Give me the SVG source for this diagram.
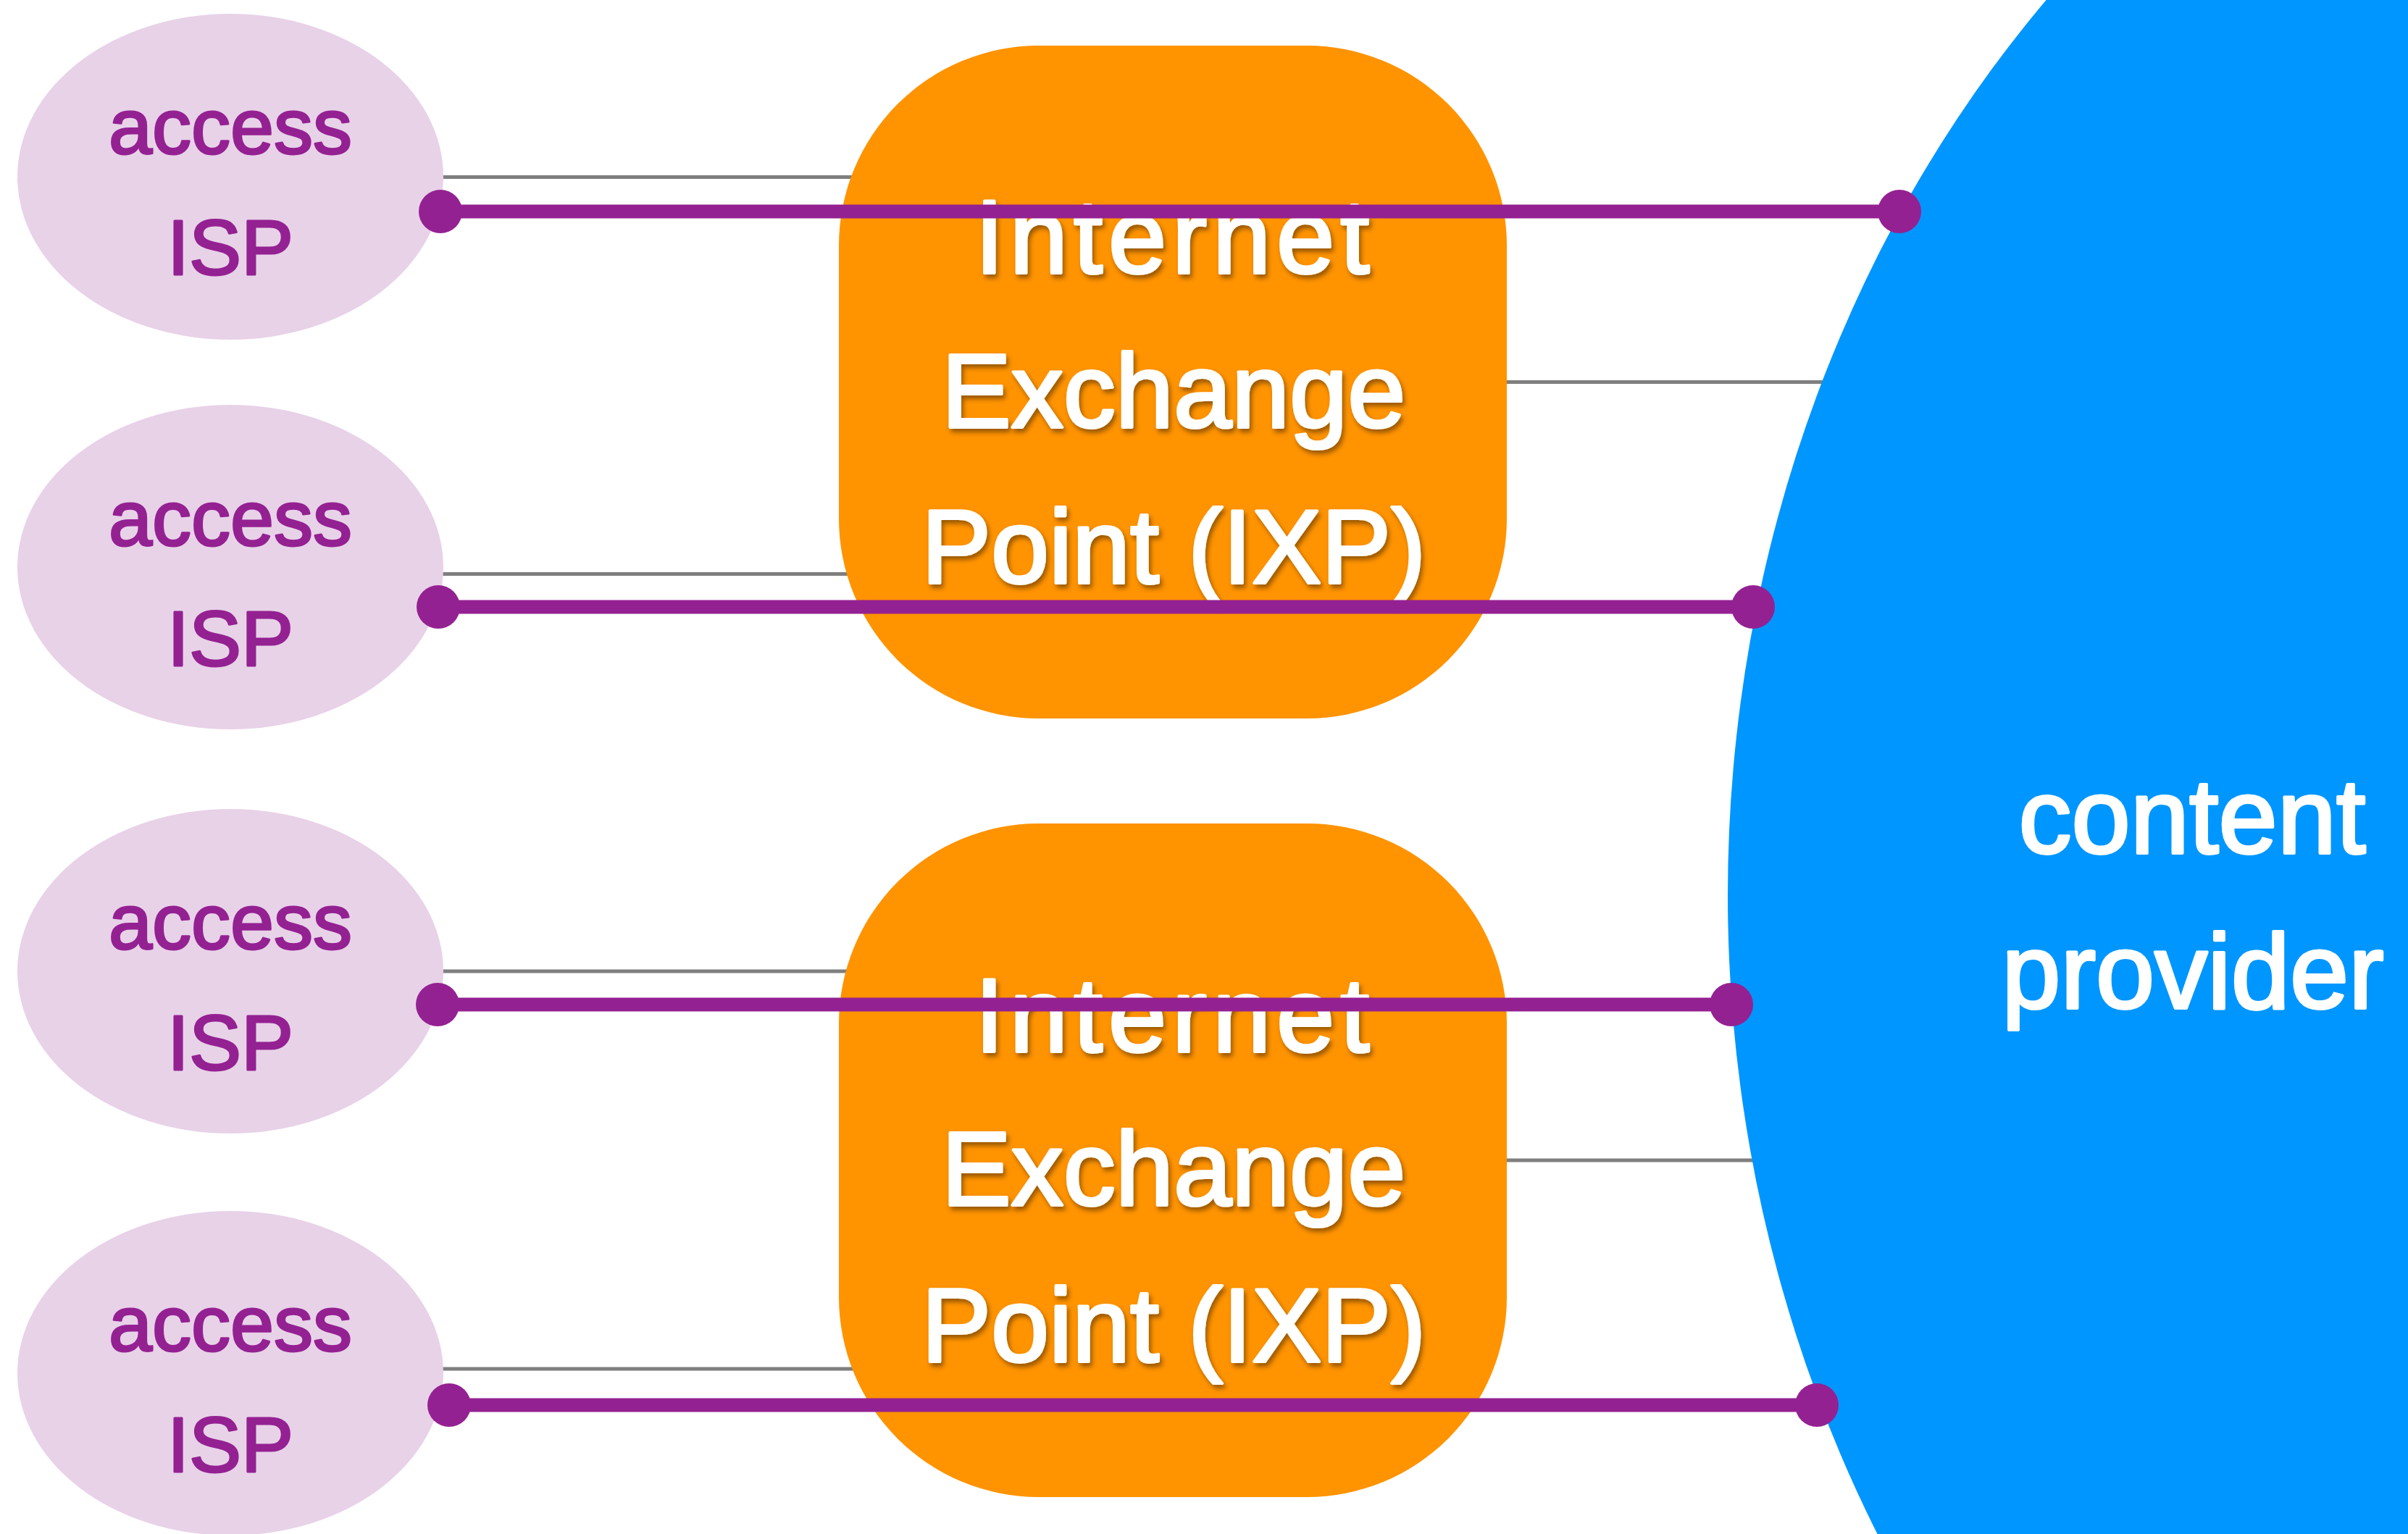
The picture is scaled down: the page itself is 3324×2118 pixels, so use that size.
<svg xmlns="http://www.w3.org/2000/svg" width="3324" height="2118" viewBox="0 0 3324 2118">
<defs>
<filter id="shadow" x="-10%" y="-20%" width="130%" height="150%">
<feDropShadow dx="3" dy="5" stdDeviation="3" flood-color="#000000" flood-opacity="0.4"/>
</filter>
</defs>
<style>
.isp{fill:#E8D2E8}
.ispt{fill:#942192;stroke:#942192;stroke-width:3;stroke-linejoin:round;font-family:"Liberation Sans",Arial,sans-serif;font-size:108px;text-anchor:middle}
.ixp{fill:#FF9300}
.ixpt{fill:#FFFFFF;stroke:#FFFFFF;stroke-width:4;stroke-linejoin:round;font-family:"Liberation Sans",Arial,sans-serif;font-size:144px;text-anchor:middle}
.cp{fill:#0096FF}
.cpt{fill:#FFFFFF;stroke:#FFFFFF;stroke-width:4;stroke-linejoin:round;font-family:"Liberation Sans",Arial,sans-serif;font-size:146px;text-anchor:middle}
.gray{stroke:#7F7F7F;stroke-width:5;fill:none}
.link{stroke:#942192;stroke-width:19;fill:none}
.dot{fill:#942192}
</style>
<rect width="3324" height="2118" fill="#FFFFFF"/>
<g id="gray-links">
<line class="gray" x1="600" y1="244.5" x2="1250" y2="244.5"/>
<line class="gray" x1="600" y1="792.5" x2="1250" y2="792.5"/>
<line class="gray" x1="600" y1="1341" x2="1250" y2="1341"/>
<line class="gray" x1="600" y1="1890" x2="1250" y2="1890"/>
<line class="gray" x1="2000" y1="527.5" x2="2700" y2="527.5"/>
<line class="gray" x1="2000" y1="1602" x2="2700" y2="1602"/>
</g>
<g id="isp1"><ellipse class="isp" cx="318" cy="244" rx="294" ry="225"/><text class="ispt" x="318" y="212">access</text><text class="ispt" x="318" y="379">ISP</text></g>
<g id="isp2"><ellipse class="isp" cx="318" cy="783" rx="294" ry="224"/><text class="ispt" x="318" y="753">access</text><text class="ispt" x="318" y="919">ISP</text></g>
<g id="isp3"><ellipse class="isp" cx="318" cy="1341" rx="294" ry="224"/><text class="ispt" x="318" y="1310">access</text><text class="ispt" x="318" y="1477">ISP</text></g>
<g id="isp4"><ellipse class="isp" cx="318" cy="1896" rx="294" ry="224"/><text class="ispt" x="318" y="1865">access</text><text class="ispt" x="318" y="2032">ISP</text></g>
<g id="ixp1"><rect class="ixp" x="1158" y="63" width="922" height="929" rx="276" ry="276"/>
<g filter="url(#shadow)"><text class="ixpt" x="1622" y="377" letter-spacing="8">Internet</text><text class="ixpt" x="1620" y="590">Exchange</text><text class="ixpt" x="1620" y="805">Point (IXP)</text></g></g>
<g id="ixp2"><rect class="ixp" x="1158" y="1137" width="922" height="930" rx="276" ry="276"/>
<g filter="url(#shadow)"><text class="ixpt" x="1622" y="1452" letter-spacing="8">Internet</text><text class="ixpt" x="1620" y="1664">Exchange</text><text class="ixpt" x="1620" y="1880">Point (IXP)</text></g></g>
<g id="content-provider"><ellipse class="cp" cx="3995" cy="1236" rx="1610" ry="1800"/><text class="cpt" x="3026" y="1178">content</text><text class="cpt" x="3027" y="1392">provider</text></g>
<g id="connectors">
<line class="link" x1="608" y1="292" x2="2622" y2="292"/><circle class="dot" cx="608" cy="292" r="30"/><circle class="dot" cx="2622" cy="292" r="30"/>
<line class="link" x1="605" y1="838" x2="2420" y2="838"/><circle class="dot" cx="605" cy="838" r="30"/><circle class="dot" cx="2420" cy="838" r="30"/>
<line class="link" x1="604" y1="1387" x2="2390" y2="1387"/><circle class="dot" cx="604" cy="1387" r="30"/><circle class="dot" cx="2390" cy="1387" r="30"/>
<line class="link" x1="620" y1="1940" x2="2508" y2="1940"/><circle class="dot" cx="620" cy="1940" r="30"/><circle class="dot" cx="2508" cy="1940" r="30"/>
</g>
</svg>
